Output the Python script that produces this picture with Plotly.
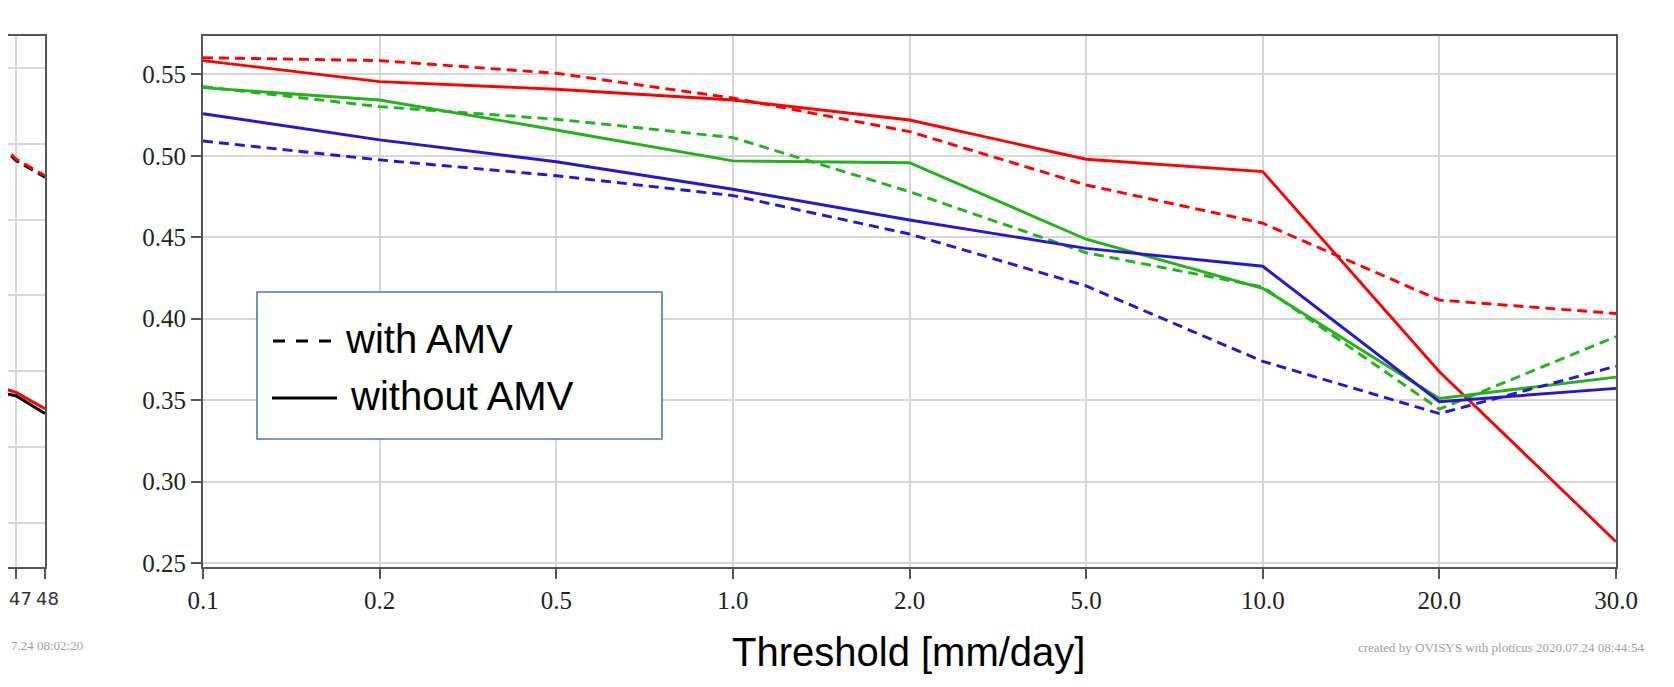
import plotly.graph_objects as go

# ---------------- data ----------------
thresholds = ["0.1", "0.2", "0.5", "1.0", "2.0", "5.0", "10.0", "20.0", "30.0"]

red_with = [0.5603, 0.5585, 0.5507, 0.5355, 0.5149, 0.4821, 0.4586, 0.4114, 0.4032]
red_without = [0.5585, 0.5456, 0.5409, 0.5343, 0.5220, 0.4979, 0.4903, 0.3674, 0.2630]
green_with = [0.5425, 0.5302, 0.5225, 0.5112, 0.4780, 0.4405, 0.4195, 0.3444, 0.3890]
green_without = [0.5419, 0.5343, 0.5159, 0.4969, 0.4958, 0.4488, 0.4187, 0.3510, 0.3641]
blue_with = [0.5091, 0.4975, 0.4878, 0.4756, 0.4520, 0.4201, 0.3738, 0.3417, 0.3708]
blue_without = [0.5259, 0.5098, 0.4964, 0.4795, 0.4606, 0.4432, 0.4322, 0.3490, 0.3572]

# left neighbouring panel (partly visible)
lead_hours = [46.45, 47, 48]
lead_tick_labels = ["47", "48"]
left_red_with = [5.01, 4.80, 4.58]
left_black_with = [4.99, 4.78, 4.56]
left_red_without = [1.786, 1.720, 1.504]
left_black_without = [1.716, 1.676, 1.442]

y_ticks = [0.25, 0.30, 0.35, 0.40, 0.45, 0.50, 0.55]

RED = "#ff0000"
GREEN = "#22b21a"
BLUE = "#2a14d4"
DASH = "10px,6px"

# page has an 8px body margin: figure is sized to fit the 1674x687 window
OFF = 8
W, H = 1674 - 2 * OFF, 687 - 2 * OFF


def X(px):
    return (px - OFF) / W


def Y(py):
    return 1 - (py - OFF) / H


fig = go.Figure()

series = [
    (red_with, RED, DASH), (red_without, RED, "solid"),
    (green_with, GREEN, DASH), (green_without, GREEN, "solid"),
    (blue_with, BLUE, DASH), (blue_without, BLUE, "solid"),
]
for vals, col, dash in series:
    fig.add_trace(go.Scatter(x=thresholds, y=vals, mode="lines",
                             line=dict(color=col, width=2.9, dash=dash),
                             showlegend=False, xaxis="x", yaxis="y"))

left_series = [
    (left_black_without, "#000000", "solid"), (left_red_without, RED, "solid"),
    (left_black_with, "#000000", DASH), (left_red_with, RED, DASH),
]
for vals, col, dash in left_series:
    fig.add_trace(go.Scatter(x=lead_hours, y=vals, mode="lines",
                             line=dict(color=col, width=3, dash=dash),
                             showlegend=False, xaxis="x2", yaxis="y2"))

tick_font = dict(family="Liberation Serif", size=25, color="#222222")
grid_col = "#d6d6d6"
axis_col = "#555555"

main_y_dom = [Y(567), Y(36)]
# x range of the partial panel: 45 px wide for 1.55 units, left 8 px hidden
frag_left = 46.45 + (OFF / 45) * 1.55

fig.update_layout(
    width=W, height=H, autosize=False,
    margin=dict(l=0, r=0, t=0, b=0, pad=0),
    paper_bgcolor="white", plot_bgcolor="white",
    xaxis=dict(domain=[X(203), X(1616)], type="category", range=[0, 8],
               categoryorder="array", categoryarray=thresholds,
               showgrid=True, gridcolor=grid_col, gridwidth=1.5,
               showline=True, linecolor=axis_col, linewidth=2, mirror=True,
               ticks="outside", ticklen=10, tickwidth=1.5, tickcolor=axis_col,
               tickfont=tick_font, tickangle=0, zeroline=False, anchor="y",
               automargin=False),
    yaxis=dict(domain=main_y_dom, range=[0.2475, 0.5736],
               tickvals=y_ticks, ticktext=[f"{v:.2f}" for v in y_ticks],
               showgrid=True, gridcolor=grid_col, gridwidth=1.5,
               showline=True, linecolor=axis_col, linewidth=2, mirror=True,
               ticks="outside", ticklen=10, tickwidth=1.5, tickcolor=axis_col,
               tickfont=tick_font, zeroline=False, anchor="x",
               automargin=False),
    xaxis2=dict(domain=[0, X(45)], range=[frag_left, 48], tickvals=[47, 48],
                showticklabels=False,
                showgrid=True, gridcolor=grid_col, gridwidth=1.5,
                showline=True, linecolor=axis_col, linewidth=2, mirror=True,
                ticks="outside", ticklen=10, tickwidth=1.5, tickcolor=axis_col,
                zeroline=False, anchor="y2", automargin=False),
    yaxis2=dict(domain=main_y_dom, range=[-0.586, 6.425], dtick=1,
                showticklabels=False, side="right",
                showgrid=True, gridcolor=grid_col, gridwidth=1.5,
                showline=True, linecolor=axis_col, linewidth=2, mirror=False,
                zeroline=False, anchor="x2", automargin=False),
)

# tick labels of the partial left panel (placed so they are not dropped at the edge)
frag_font = dict(family="DejaVu Sans", size=18, color="#333333")
fig.add_annotation(xref="paper", yref="paper", x=X(8), y=Y(598), text=lead_tick_labels[0],
                   showarrow=False, xanchor="left", yanchor="middle", font=frag_font,
                   borderpad=0)
fig.add_annotation(xref="paper", yref="paper", x=X(35), y=Y(598), text=lead_tick_labels[1],
                   showarrow=False, xanchor="left", yanchor="middle", font=frag_font,
                   borderpad=0)

# legend box (custom, as in the original figure)
fig.add_shape(type="rect", xref="paper", yref="paper",
              x0=X(257), x1=X(662), y0=Y(439), y1=Y(292),
              line=dict(color="#4a78b8", width=1.6), fillcolor="white", layer="above")
fig.add_shape(type="line", xref="paper", yref="paper",
              x0=X(273), x1=X(333), y0=Y(341), y1=Y(341),
              line=dict(color="black", width=3, dash="12px,11px"))
fig.add_shape(type="line", xref="paper", yref="paper",
              x0=X(272), x1=X(337), y0=Y(398), y1=Y(398),
              line=dict(color="black", width=3))

legend_font = dict(family="Liberation Sans", size=40, color="black")
fig.add_annotation(xref="paper", yref="paper", x=X(343), y=Y(339), text="with AMV",
                   showarrow=False, xanchor="left", yanchor="middle", font=legend_font)
fig.add_annotation(xref="paper", yref="paper", x=X(348), y=Y(396), text="without AMV",
                   showarrow=False, xanchor="left", yanchor="middle", font=legend_font)

# axis title
fig.add_annotation(xref="paper", yref="paper", x=X(908), y=Y(652), text="Threshold [mm/day]",
                   showarrow=False, xanchor="center", yanchor="middle",
                   font=dict(family="Liberation Sans", size=40, color="black"))

# footers
foot_font = dict(family="Liberation Serif", size=13, color="#a0a0a0")
fig.add_annotation(xref="paper", yref="paper", x=X(1646), y=Y(647),
                   text="created by OVISYS with ploticus 2020.07.24 08:44:54",
                   showarrow=False, xanchor="right", yanchor="middle", font=foot_font)
fig.add_annotation(xref="paper", yref="paper", x=X(9), y=Y(645),
                   text="7.24 08:02:20",
                   showarrow=False, xanchor="left", yanchor="middle", font=foot_font)

fig.write_html("out.html")
